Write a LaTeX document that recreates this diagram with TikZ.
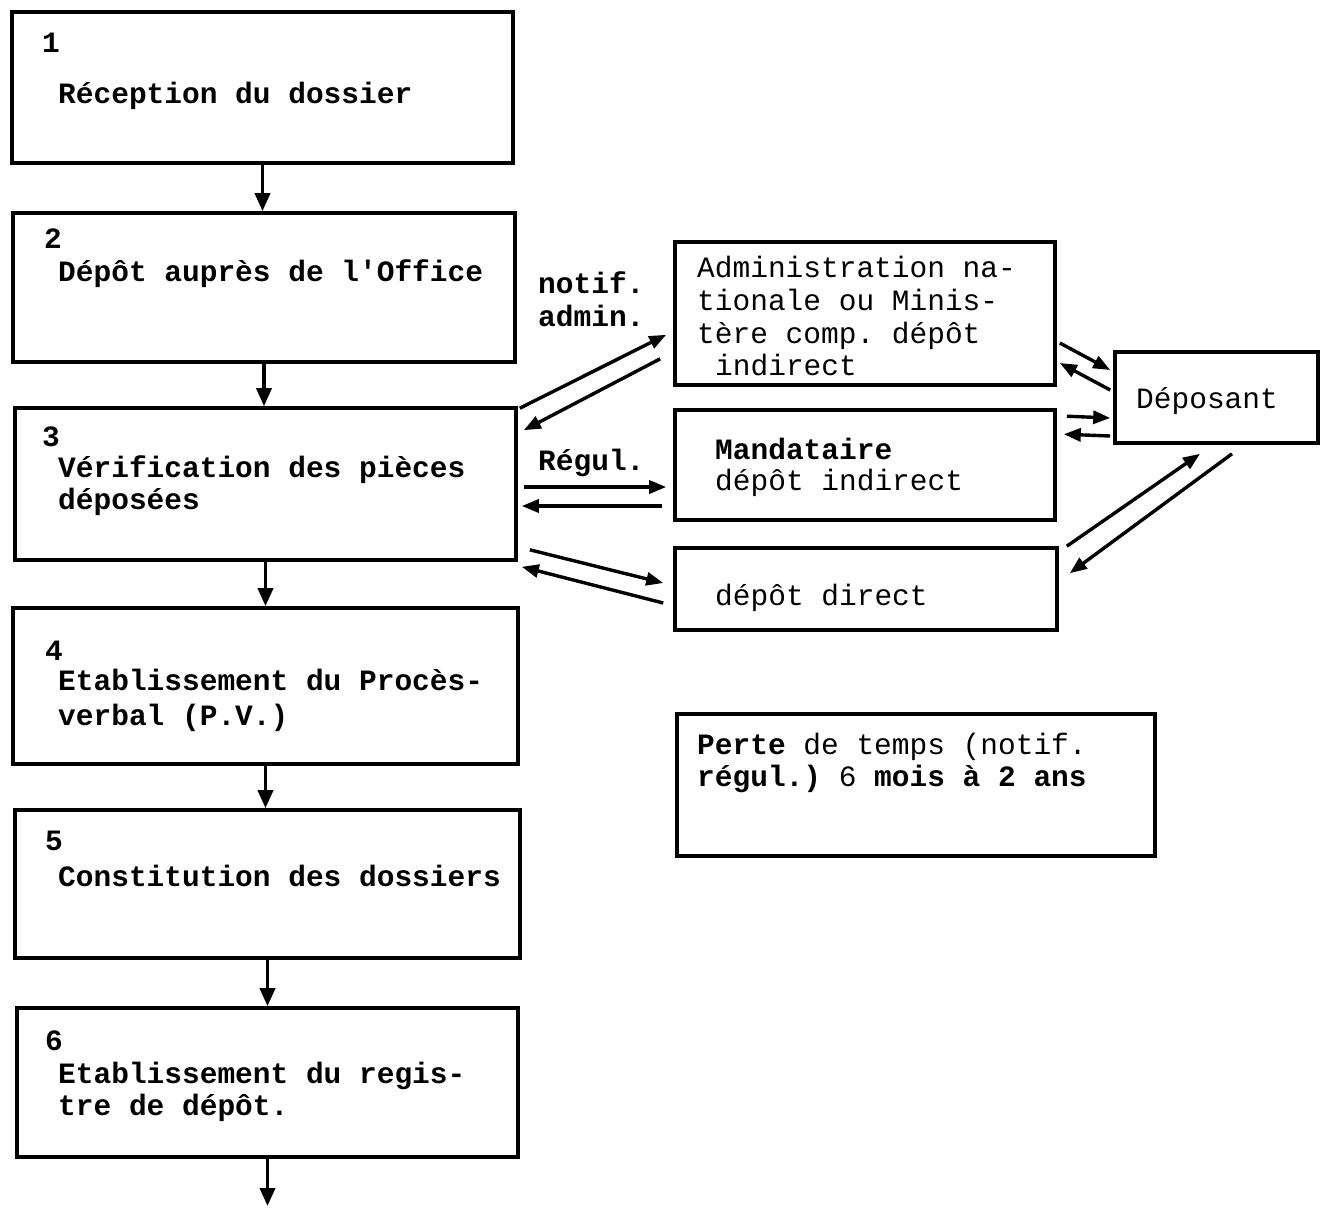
\documentclass[tikz,border=0pt]{standalone}
\usepackage{fontspec}
\setmonofont{Liberation Mono}
\usetikzlibrary{arrows.meta,calc}
\begin{document}
\begin{tikzpicture}[x=1pt,y=-1pt,
  box/.style={draw,line width=3.6pt,rectangle,inner sep=0pt},
  txt/.style={anchor=base west,inner sep=0pt,font=\ttfamily\fontsize{29.5}{34}\selectfont},
  btxt/.style={txt,font=\ttfamily\fontsize{29.5}{34}\selectfont\bfseries},
  flow/.style={line width=3.6pt,-{Triangle[length=18pt,width=15pt]}},
  side/.style={line width=3.4pt,-{Triangle[length=17pt,width=13pt]}}]
\useasboundingbox (0,0) rectangle (1320,1208);
% left column boxes
\node[box,minimum width=501,minimum height=151] (b1) at (262.5,87.5) {};
\node[box,minimum width=502,minimum height=149] (b2) at (264,287.5) {};
\node[box,minimum width=501,minimum height=152] (b3) at (265.5,484) {};
\node[box,minimum width=505,minimum height=156] (b4) at (265.5,686) {};
\node[box,minimum width=505,minimum height=148] (b5) at (267.5,884) {};
\node[box,minimum width=501,minimum height=149] (b6) at (267.5,1082.5) {};
% right boxes
\node[box,minimum width=380,minimum height=143] (adm) at (865,313.5) {};
\node[box,minimum width=380,minimum height=110] (mand) at (865,465) {};
\node[box,minimum width=382,minimum height=82] (dir) at (866,589) {};
\node[box,minimum width=203,minimum height=91] (dep) at (1216.5,397.5) {};
\node[box,minimum width=478,minimum height=142] (perte) at (916,785) {};
% texts left
\node[btxt] (n1) at (42,52) {1};
\node[btxt] (t1) at (58,103) {Réception du dossier};
\node[btxt] (n2) at (44,248) {2};
\node[btxt] (t2) at (58,281) {Dépôt auprès de l'Office};
\node[btxt] (n3) at (42,446) {3};
\node[btxt] (t3a) at (58,477) {Vérification des pièces};
\node[btxt] (t3b) at (58,509) {déposées};
\node[btxt] (n4) at (45,660) {4};
\node[btxt] (t4a) at (58,690) {Etablissement du Procès-};
\node[btxt] (t4b) at (58,725) {verbal (P.V.)};
\node[btxt] (n5) at (45,850) {5};
\node[btxt] (t5) at (58,886) {Constitution des dossiers};
\node[btxt] (n6) at (45,1050) {6};
\node[btxt] (t6a) at (58,1083) {Etablissement du regis-};
\node[btxt] (t6b) at (58,1115) {tre de dépôt.};
% texts right
\node[txt] (a1) at (697,277) {Administration na-};
\node[txt] (a2) at (697,310) {tionale ou Minis-};
\node[txt] (a3) at (697,343) {tère comp. dépôt};
\node[txt] (a4) at (715,375) {indirect};
\node[btxt] (m1) at (715,459) {Mandataire};
\node[txt] (m2) at (715,490) {dépôt indirect};
\node[txt] (d1) at (715,605) {dépôt direct};
\node[txt,anchor=base] (dp) at (1207,408) {Déposant};
\node[txt] (p1) at (697,754) {\textbf{Perte} de temps (notif.};
\node[txt] (p2) at (697,786) {\textbf{régul.)} 6 \textbf{mois à 2 ans}};
\node[btxt] (l1) at (538,293) {notif.};
\node[btxt] (l2) at (538,326) {admin.};
\node[btxt] (l3) at (538,470) {Régul.};
% vertical flow
\coordinate (out) at (265,1206);
\draw[flow] (b1.south) -- (b1.south |- b2.north);
\draw[flow] (b2.south) -- (b2.south |- b3.north);
\draw[flow] (b3.south) -- (b3.south |- b4.north);
\draw[flow] (b4.south) -- (b4.south |- b5.north);
\draw[flow] (b5.south) -- (b5.south |- b6.north);
\draw[flow] (b6.south) -- (b6.south |- out);
% side arrows
\draw[side] ($(b3.north east)+(2,2)$) -- ($(adm.south west)+(-7,-52)$);
\draw[side] ($(adm.south west)+(-13,-28)$) -- ($(b3.north east)+(6,24)$);
\draw[side] ($(b3.east)+(6,3)$) -- ($(mand.west)+(-7,22)$);
\draw[side] ($(mand.west)+(-11,41)$) -- ($(b3.east)+(4,22)$);
\draw[side] ($(b3.south east)+(12,-12)$) -- ($(dir.west)+(-10,-6)$);
\draw[side] ($(dir.west)+(-10,14)$) -- ($(b3.south east)+(4,5)$);
\draw[side] ($(adm.east)+(3,29.5)$) -- ($(dep.west)+(-3,-27.5)$);
\draw[side] ($(dep.west)+(-3,-7.5)$) -- ($(adm.east)+(3,49.5)$);
\draw[side] ($(mand.north east)+(10,8)$) -- ($(dep.west)+(-3,20.5)$);
\draw[side] ($(dep.west)+(-3,38.5)$) -- ($(mand.north east)+(7,26)$);
\draw[side] ($(dir.north east)+(8,0)$) -- ($(dep.south)+(-16.5,9)$);
\draw[side] ($(dep.south)+(15.5,9)$) -- ($(dir.north east)+(11,27)$);
\end{tikzpicture}
\end{document}
